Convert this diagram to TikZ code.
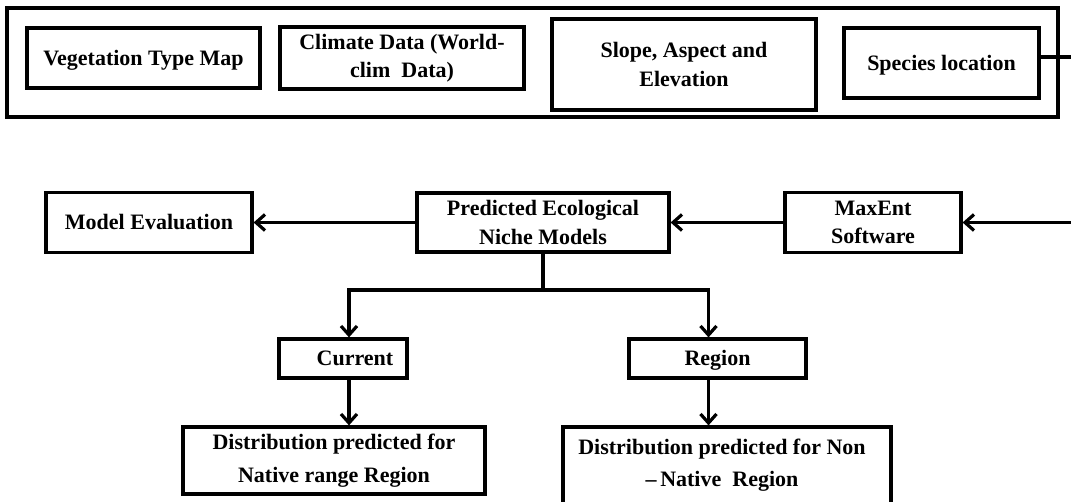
\documentclass[tikz,border=0pt]{standalone}
\usepackage{fontspec}
\setmainfont{Liberation Serif}
\usetikzlibrary{arrows.meta}

\tikzset{
  box/.style={draw=black, line width=3.2pt, fill=white, inner sep=0pt,
    align=center, font=\bfseries\fontsize{22}{28.5}\selectfont},
  oneline/.style={box, text height=15pt, text depth=0pt},
  plainbox/.style={draw=black, line width=3.2pt, inner sep=0pt},
  txt/.style={inner sep=0pt, align=center, font=\bfseries\fontsize{22}{32}\selectfont},
  link/.style={draw=black, line width=3.2pt},
  arr/.style={link, -{Straight Barb[length=9pt,width=16pt]}}
}

\begin{document}
\begin{tikzpicture}[x=1pt, y=-1pt]
\path[use as bounding box, clip] (0,0) rectangle (1071,502);
\fill[white] (0,0) rectangle (1071,502);

% input data layers
\node[plainbox, minimum width=1051pt, minimum height=109pt] (inputs) at (532.5,62.5) {};
\node[oneline, minimum width=233pt, minimum height=60pt] (veg) at (143.5,58) {Vegetation Type Map};
\node[box, minimum width=244pt, minimum height=62pt] (climate) at (402,58) {Climate Data (World-\\clim~ Data)};
\node[box, minimum width=264pt, minimum height=91pt] (terrain) at (684,64.5) {Slope, Aspect and\\Elevation};
\node[oneline, minimum width=195pt, minimum height=70pt] (species) at (941.5,63) {Species location};
\coordinate (feed) at (1058,57);

% modelling row
\node[oneline, minimum width=206pt, minimum height=60pt] (evaluation) at (149,222.5) {Model Evaluation};
\node[box, minimum width=252pt, minimum height=59pt] (predicted) at (543,222.5) {Predicted Ecological\\Niche Models};
\node[box, minimum width=176pt, minimum height=60pt] (maxent) at (873,222.5) {MaxEnt\\Software};

% projections
\coordinate (split) at (543,290);
\node[oneline, minimum width=128pt, minimum height=39pt] (current) at (343,358.5) {\hspace*{24pt}Current};
\node[oneline, minimum width=177pt, minimum height=39pt] (region) at (717.5,358.5) {Region};
\node[box, minimum width=302pt, minimum height=67pt, font=\bfseries\fontsize{22}{33}\selectfont] (native) at (334,460.5) {Distribution predicted for\\Native range Region};
\node[plainbox, minimum width=328pt, minimum height=85pt] (nonnative) at (727,469.5) {};
\node[txt, font=\bfseries\fontsize{22}{31.7}\selectfont] (nonnativetext) at (722,465.5) {Distribution predicted for Non\\--\,Native~ Region};

% connectors
\draw[link] (species.east |- feed) -- (feed);
\draw[arr] (feed) -- ++(40,0) |- (maxent.east);
\draw[arr] (maxent.west) -- (predicted.east);
\draw[arr] (predicted.west) -- (evaluation.east);
\draw[link] (predicted.south) -- (split);
\draw[arr] (split) -| ([xshift=6pt]current.north);
\draw[arr] (split) -| ([xshift=-9pt]region.north);
\draw[arr] ([xshift=6pt]current.south) -- ([xshift=6pt]current.south |- native.north);
\draw[arr] ([xshift=-9pt]region.south) -- ([xshift=-9pt]region.south |- nonnative.north);
\end{tikzpicture}
\end{document}
